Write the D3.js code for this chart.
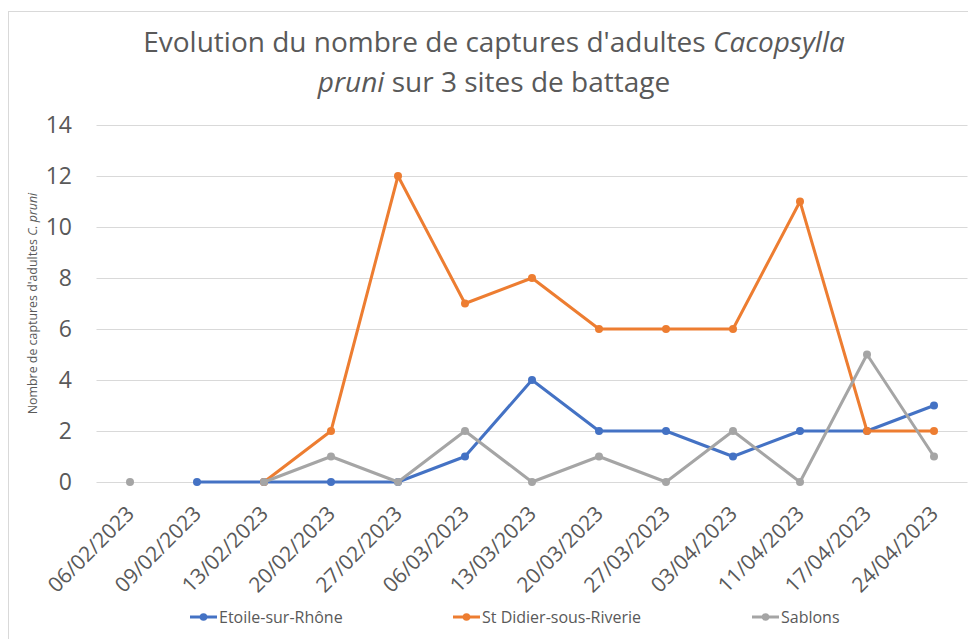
<!DOCTYPE html>
<html>
<head>
<meta charset="utf-8">
<script src="https://cdn.jsdelivr.net/npm/d3@7"></script>
<style>
  body { margin: 0; background: #fff; }
  text { font-family: "Open Sans", sans-serif; fill: #595959; }
</style>
</head>
<body>
<svg id="chart"></svg>
<script>
"use strict";
const dates = ["06/02/2023", "09/02/2023", "13/02/2023", "20/02/2023", "27/02/2023",
    "06/03/2023", "13/03/2023", "20/03/2023", "27/03/2023", "03/04/2023",
    "11/04/2023", "17/04/2023", "24/04/2023"];
const etoile   = [null, 0, 0, 0, 0, 1, 4, 2, 2, 1, 2, 2, 3];
const stDidier = [null, null, 0, 2, 12, 7, 8, 6, 6, 6, 11, 2, 2];
const sablons  = [0, null, 0, 1, 0, 2, 0, 1, 0, 2, 0, 5, 1];
const seriesNames = ["Etoile-sur-Rhône", "St Didier-sous-Riverie", "Sablons"];
const colors = ["#4472C4", "#ED7D31", "#A5A5A5"];
const yTicks = [0, 2, 4, 6, 8, 10, 12, 14];

const W = 968, H = 639;
const plot = {left: 96.5, right: 967.5, top: 125, bottom: 482};

const svg = d3.select("#chart")
    .attr("width", W)
    .attr("height", H);

// chart frame
svg.append("rect")
    .attr("x", 8.5).attr("y", 11.5)
    .attr("width", 1000).attr("height", 700)
    .attr("fill", "none")
    .attr("stroke", "#d9d9d9");

const x = d3.scalePoint()
    .domain(dates)
    .range([plot.left, plot.right])
    .padding(0.5);
const y = d3.scaleLinear()
    .domain([0, 14])
    .range([plot.bottom, plot.top]);

// gridlines
svg.append("g")
    .attr("transform", `translate(${plot.left},0)`)
    .call(d3.axisLeft(y).tickValues(yTicks).tickSize(-(plot.right - plot.left)).tickFormat(""))
    .call(g => g.select(".domain").remove())
    .call(g => g.selectAll("line").attr("stroke", "#d9d9d9").attr("stroke-width", 1));

// y tick labels
svg.append("g")
    .attr("transform", "translate(72,0)")
    .call(d3.axisLeft(y).tickValues(yTicks).tickSize(0).tickPadding(0))
    .call(g => g.select(".domain").remove())
    .call(g => g.selectAll("text")
        .attr("fill", "#595959")
        .style("font-size", "23px")
        .style("font-family", "'Open Sans', sans-serif"));

// x tick labels
svg.append("g")
    .attr("transform", `translate(0,${plot.bottom})`)
    .call(d3.axisBottom(x).tickSize(0).tickPadding(0))
    .call(g => g.select(".domain").remove())
    .call(g => g.selectAll("text")
        .attr("fill", "#595959")
        .style("font-size", "21px")
        .style("font-family", "'Open Sans', sans-serif")
        .attr("text-anchor", "end")
        .attr("dy", 0)
        .attr("transform", "translate(5,33) rotate(-45)"));

// y axis title
svg.append("text")
    .attr("transform", `translate(37,${(plot.top + plot.bottom) / 2}) rotate(-90)`)
    .attr("text-anchor", "middle")
    .style("font-size", "12.4px")
    .call(t => {
        t.append("tspan").text("Nombre de captures d'adultes ");
        t.append("tspan").style("font-style", "italic").text("C. pruni");
    });

// title
const title = svg.append("text")
    .attr("text-anchor", "middle")
    .style("font-size", "28px");
const l1 = title.append("tspan").attr("x", 494).attr("y", 52);
l1.append("tspan").text("Evolution du nombre de captures d'adultes ");
l1.append("tspan").style("font-style", "italic").text("Cacopsylla");
const l2 = title.append("tspan").attr("x", 494).attr("y", 92);
l2.append("tspan").style("font-style", "italic").text("pruni");
l2.append("tspan").text(" sur 3 sites de battage");

// lines + markers
const allSeries = [etoile, stDidier, sablons];
const line = d3.line()
    .defined(d => d.v !== null)
    .x(d => x(d.date))
    .y(d => y(d.v));

allSeries.forEach((vals, i) => {
    const pts = vals.map((v, j) => ({date: dates[j], v: v}));
    svg.append("path")
        .datum(pts)
        .attr("fill", "none")
        .attr("stroke", colors[i])
        .attr("stroke-width", 3)
        .attr("stroke-linejoin", "round")
        .attr("d", line);
    svg.append("g").selectAll("circle")
        .data(pts.filter(d => d.v !== null))
        .enter().append("circle")
        .attr("cx", d => x(d.date))
        .attr("cy", d => y(d.v))
        .attr("r", 4)
        .attr("fill", colors[i]);
});

// legend
const legendX = [190, 453, 752];
seriesNames.forEach((name, i) => {
    const g = svg.append("g").attr("transform", `translate(${legendX[i]},617)`);
    g.append("line")
        .attr("x1", 0).attr("x2", 27)
        .attr("stroke", colors[i]).attr("stroke-width", 3);
    g.append("circle").attr("cx", 13.5).attr("r", 3.8).attr("fill", colors[i]);
    g.append("text")
        .attr("x", 29).attr("dy", "0.35em")
        .style("font-size", "16px")
        .text(name);
});
</script>
</body>
</html>
